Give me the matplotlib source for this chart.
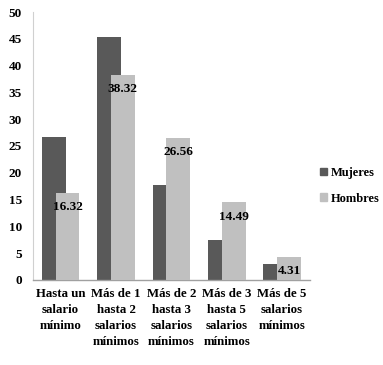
import matplotlib
matplotlib.use("Agg")
import matplotlib.pyplot as plt
import numpy as np
from matplotlib.patches import Patch

categories = ["Hasta un\nsalario\nmínimo",
              "Más de 1\nhasta 2\nsalarios\nmínimos",
              "Más de 2\nhasta 3\nsalarios\nmínimos",
              "Más de 3\nhasta 5\nsalarios\nmínimos",
              "Más de 5\nsalarios\nmínimos"]
mujeres = [26.6, 45.3, 17.7, 7.5, 2.9]
hombres = [16.32, 38.32, 26.56, 14.49, 4.31]
hombres_labels = ["16.32", "38.32", "26.56", "14.49", "4.31"]
yticks = [0, 5, 10, 15, 20, 25, 30, 35, 40, 45, 50]

plt.rcParams['font.family'] = ['Liberation Serif', 'DejaVu Serif']
plt.rcParams['font.weight'] = 'bold'

fig = plt.figure(figsize=(3.83, 3.65), dpi=100)
ax = fig.add_axes([0.086, 0.233, 0.723, 0.734])

x = np.arange(len(categories))
w = 0.43
dark = "#595959"
light = "#c0c0c0"
ax.bar(x - 0.125, mujeres, width=w, color=dark, zorder=2)
bars_h = ax.bar(x + 0.125, hombres, width=w, color=light, zorder=3)

for b, lab in zip(bars_h, hombres_labels):
    ax.annotate(lab, (b.get_x() + b.get_width() / 2, b.get_height()),
                xytext=(0, -10.5), textcoords="offset points",
                ha="center", va="center", fontsize=9.5, fontweight="bold",
                color="black", zorder=4)

ax.set_xlim(-0.5, len(categories) - 0.5)
ax.set_ylim(0, 50)
ax.set_yticks(yticks)
ax.set_yticklabels([str(t) for t in yticks], fontsize=9.5, fontweight="bold")
ax.set_xticks(x)
ax.set_xticklabels(categories, fontsize=9.3, fontweight="bold", linespacing=1.45)
ax.tick_params(axis="both", length=0)
ax.tick_params(axis="y", pad=8)
ax.tick_params(axis="x", pad=6)

for s in ["top", "right"]:
    ax.spines[s].set_visible(False)
ax.spines["left"].set_color("#d0d0d0")
ax.spines["bottom"].set_color("#a0a0a0")
ax.spines["left"].set_linewidth(0.8)
ax.spines["bottom"].set_linewidth(1.0)

handles = [Patch(color=dark, label="Mujeres"), Patch(color=light, label="Hombres")]
fig.legend(handles=handles, loc="center left", bbox_to_anchor=(0.822, 0.491),
           frameon=False, fontsize=9, handlelength=0.55, handleheight=0.6,
           handletextpad=0.3, labelspacing=1.1, borderaxespad=0)

fig.savefig("out.png", dpi=100)
